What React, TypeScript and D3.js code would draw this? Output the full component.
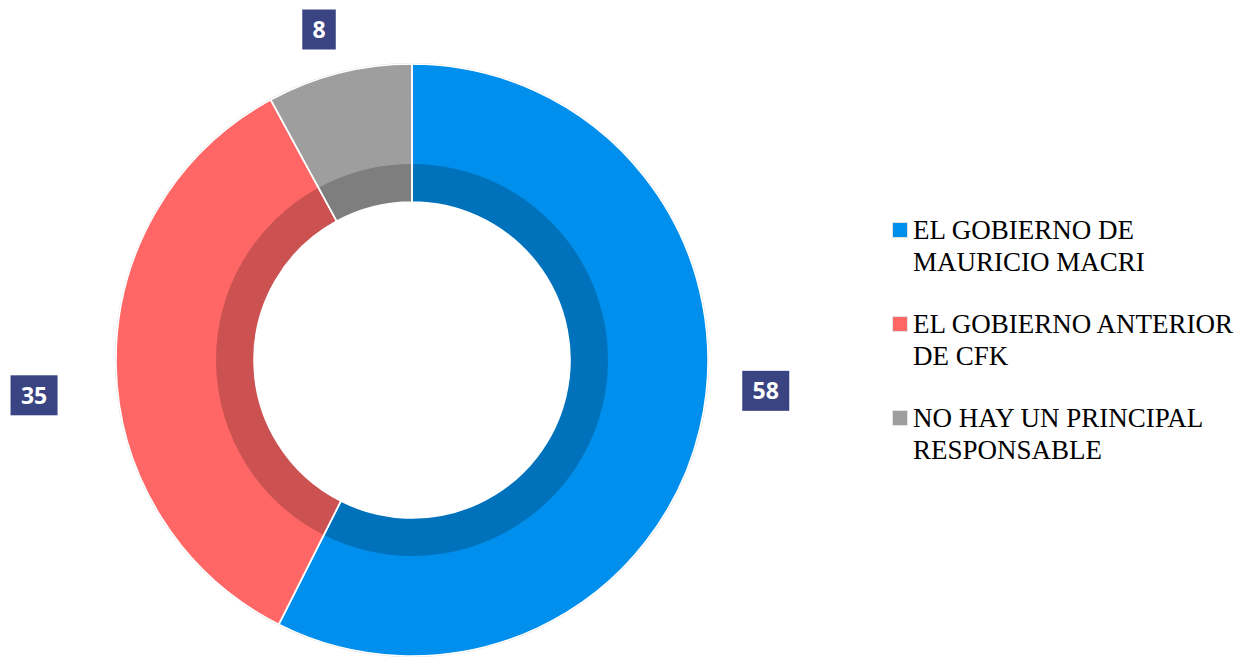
import React, { useEffect, useRef } from "react";
import * as d3 from "d3";

const categories = [
  "EL GOBIERNO DE MAURICIO MACRI",
  "EL GOBIERNO ANTERIOR DE CFK",
  "NO HAY UN PRINCIPAL RESPONSABLE",
];
const legendLines = [
  ["EL GOBIERNO DE", "MAURICIO MACRI"],
  ["EL GOBIERNO ANTERIOR", "DE CFK"],
  ["NO HAY UN PRINCIPAL", "RESPONSABLE"],
];
const values = [58, 35, 8];
const colors = ["#008FEC", "#FF6666", "#9E9E9E"];

const width = 1246,
  height = 659;
const cx = 412,
  cy = 360;
const outerR = 296,
  bandR = 196,
  innerR = 158;

// manual label nudges (px) from the outer centroid
const labelNudge = [
  [22, -48],
  [-37, 30],
  [-9, 0],
];

export default function App(): JSX.Element {
  const ref = useRef<SVGSVGElement>(null);

  useEffect(() => {
    if (!ref.current) return;
    const svg = d3.select(ref.current);
    svg.selectAll("*").remove();

    const pie = d3
      .pie<number>()
      .sort(null)
      .value((d) => d);
    const arcs = pie(values);

    const g = svg.append("g").attr("transform", `translate(${cx},${cy})`);

    const outerArc = d3.arc<d3.PieArcDatum<number>>().innerRadius(innerR).outerRadius(outerR);
    const bandArc = d3.arc<d3.PieArcDatum<number>>().innerRadius(innerR).outerRadius(bandR);

    // faint edge shadow
    g.append("circle")
      .attr("r", outerR + 0.5)
      .attr("fill", "none")
      .attr("stroke", "#d9d9d9")
      .attr("stroke-width", 1.2);

    g.selectAll("path.slice")
      .data(arcs)
      .join("path")
      .attr("class", "slice")
      .attr("d", outerArc)
      .attr("fill", (d, i) => colors[i]);

    g.selectAll("path.band")
      .data(arcs)
      .join("path")
      .attr("class", "band")
      .attr("d", bandArc)
      .attr("fill", "#000")
      .attr("fill-opacity", 0.2);

    g.selectAll("path.border")
      .data(arcs)
      .join("path")
      .attr("class", "border")
      .attr("d", outerArc)
      .attr("fill", "none")
      .attr("stroke", "#fff")
      .attr("stroke-width", 1.6)
      .attr("stroke-linejoin", "round");

    const labelArc = d3.arc<d3.PieArcDatum<number>>().innerRadius(outerR + 45).outerRadius(outerR + 45);

    const labels = g
      .selectAll("g.lbl")
      .data(arcs)
      .join("g")
      .attr("class", "lbl")
      .attr("transform", (d, i) => {
        const [x, y] = labelArc.centroid(d);
        return `translate(${x + labelNudge[i][0]},${y + labelNudge[i][1]})`;
      });

    labels
      .append("rect")
      .attr("x", (d) => -(String(d.data).length * 13.5 + 20) / 2)
      .attr("y", -20)
      .attr("width", (d) => String(d.data).length * 13.5 + 20)
      .attr("height", 40)
      .attr("fill", "#3B4483");

    labels
      .append("text")
      .attr("text-anchor", "middle")
      .attr("dy", "0.36em")
      .attr("font-family", "'Open Sans', sans-serif")
      .attr("font-weight", 700)
      .attr("font-size", 23)
      .attr("fill", "#fff")
      .text((d) => d.data);

    // legend
    const legend = svg
      .append("g")
      .attr("font-family", "'Liberation Serif', 'Times New Roman', serif")
      .attr("font-size", 27)
      .attr("fill", "#000")
      .selectAll("g")
      .data(categories)
      .join("g")
      .attr("transform", (d, i) => `translate(892, ${222 + i * 94})`);

    legend
      .append("rect")
      .attr("x", 0.5)
      .attr("y", 0.5)
      .attr("width", 15)
      .attr("height", 15)
      .attr("fill", (d, i) => colors[i])
      .attr("stroke", "#e3e3e3")
      .attr("stroke-width", 1);

    legend
      .append("text")
      .attr("x", 21)
      .attr("y", 17)
      .selectAll("tspan")
      .data((d, i) => legendLines[i])
      .join("tspan")
      .attr("x", 21)
      .attr("dy", (d, j) => (j === 0 ? 0 : 32))
      .text((d) => d);
  }, []);

  return (
    <svg
      ref={ref}
      width={width}
      height={height}
      style={{ position: "absolute", left: 0, top: 0, background: "#fff" }}
    />
  );
}
